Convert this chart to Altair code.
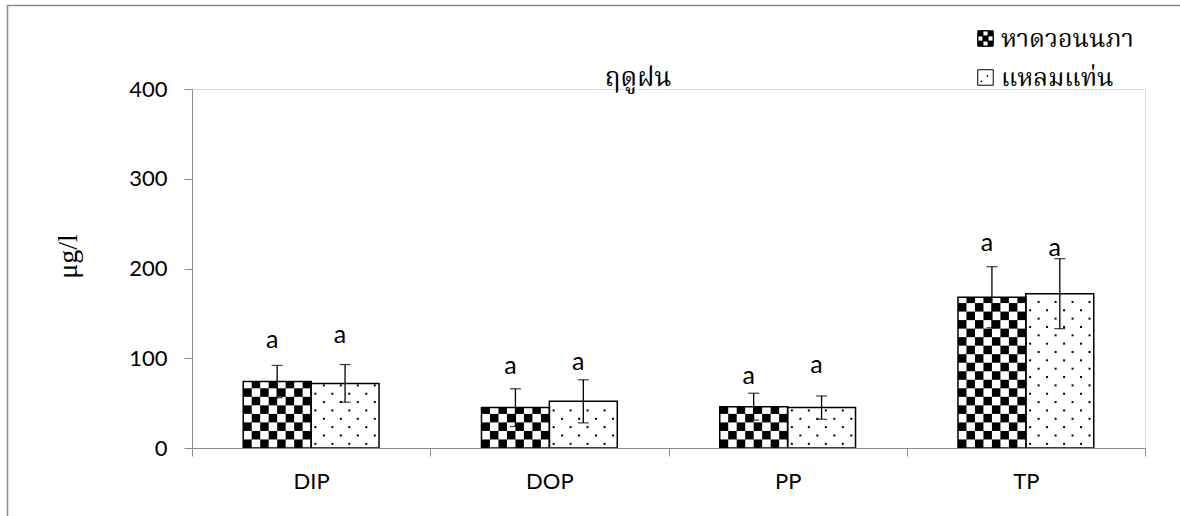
import json
import math
import altair as alt
import pandas as pd

# ---------------- data ----------------
categories = ["DIP", "DOP", "PP", "TP"]
sites = ["หาดวอนนภา", "แหลมแท่น"]
won_nopha_mean = [74, 45, 46, 168]
won_nopha_err = [18, 21, 15, 34]
laem_taen_mean = [72, 52, 45, 172]
laem_taen_err = [21, 24, 13, 39]
won_nopha_letter = ["a", "a", "a", "a"]
laem_taen_letter = ["a", "a", "a", "a"]
won_nopha_letter_y = [120, 91, 80, 228]
laem_taen_letter_y = [126, 96, 93, 223]

title_text = "ฤดูฝน"
y_title = "μg/l"

# ---------------- style constants ----------------
THAI = "Noto Serif Thai, Norasi, Noto Sans Thai, Loma, Garuda, Liberation Serif, serif"
LAT = "Lato, Open Sans, sans-serif"
BAR_W = 0.285       # bar width as a fraction of one category step
CELL_COLS = 8       # checker columns per bar
CELL_Y = 9.5        # checker cell height (y units)
DOT_COLS = 4
DOT_ROW = 9.3
GREY = "#8c8c8c"
W, H = 953, 359

# ---------------- tables built from the arrays ----------------
bars, cells, dots = [], [], []
series = [
    (sites[0], won_nopha_mean, won_nopha_err, won_nopha_letter, won_nopha_letter_y),
    (sites[1], laem_taen_mean, laem_taen_err, laem_taen_letter, laem_taen_letter_y),
]
for i, cat in enumerate(categories):
    for s, (site, means, errs, letters, ly) in enumerate(series):
        v = means[i]
        x0 = i + 0.5 - BAR_W if s == 0 else i + 0.5
        x1 = x0 + BAR_W
        xc = (x0 + x1) / 2
        bars.append(dict(cat=cat, site=site, x0=x0, x1=x1, xc=xc, v=v, zero=0,
                         half=v / 2, lo=v - errs[i], hi=v + errs[i],
                         letter=letters[i], ly=ly[i]))
        if s == 0:
            cw = BAR_W / CELL_COLS
            for r in range(math.ceil(v / CELL_Y)):
                ya, yb = r * CELL_Y, min((r + 1) * CELL_Y, v)
                for c in range(CELL_COLS):
                    if (r + c) % 2 == 1:
                        cells.append(dict(x0=x0 + c * cw, x1=x0 + (c + 1) * cw, y0=ya, y1=yb))
        else:
            dw = BAR_W / DOT_COLS
            r = 0
            while (r + 0.5) * DOT_ROW < v - 2:
                for c in range(DOT_COLS):
                    dots.append(dict(x=x0 + (c + 0.25 + 0.5 * (r % 2)) * dw, y=(r + 0.5) * DOT_ROW))
                r += 1

bars_df = pd.DataFrame(bars)
cells_df = pd.DataFrame(cells)
dots_df = pd.DataFrame(dots)

# ---------------- legend symbols (custom paths) ----------------
s = 2 / 3
checker_path = "M-1,-1H1V1H-1Z"
for col in range(3):
    for row in range(3):
        if (col + row) % 2 == 1:
            x, y = -1 + col * s, -1 + row * s
            checker_path += f"M{x:.3f},{y:.3f}V{y + s:.3f}H{x + s:.3f}V{y:.3f}Z"
dot_path = "M-1,-1H1V1H-1Z"
for (x, y) in [(0.2, -0.25), (-0.6, 0.45)]:
    dot_path += f"M{x},{y}h0.1v0.1h-0.1Z"

# ---------------- scales / axes ----------------
x_scale = alt.Scale(domain=[0, 4], nice=False, zero=False)
y_scale = alt.Scale(domain=[0, 400], nice=False)
label_expr = f"{json.dumps(categories)}[datum.value] || ''"
x_axis = alt.Axis(values=[0, 1, 2, 3, 4], labelExpr=label_expr, labelOffset=W / 8,
                  labelFlush=False, labelOverlap=False, labelBound=False,
                  title=None, grid=False, domainColor=GREY, tickColor=GREY,
                  tickSize=8, labelPadding=15, labelFont=LAT, labelFontSize=22,
                  labelColor="black", zindex=1)
y_axis = alt.Axis(values=[0, 100, 200, 300, 400], title=y_title, grid=False,
                  domainColor=GREY, tickColor=GREY, tickSize=8, labelPadding=17,
                  labelFont=LAT, labelFontSize=22, labelColor="black",
                  titleFont="Liberation Serif", titleFontSize=28, titleFontWeight="normal",
                  titleColor="black", titleAngle=270, titleX=-124, titleY=167,
                  titleAlign="center", titleBaseline="middle")


def X(field):
    return alt.X(f"{field}:Q", scale=x_scale, axis=x_axis)


def Y(field):
    return alt.Y(f"{field}:Q", scale=y_scale, axis=y_axis)


fill_scale = alt.Scale(domain=sites, range=["black", "white"])
stroke_scale = alt.Scale(domain=sites, range=["black", "black"])
shape_scale = alt.Scale(domain=sites, range=[checker_path, dot_path])
legend = alt.Legend(title=None, orient="none", legendX=781, legendY=-63,
                    symbolSize=240, symbolStrokeColor="black", symbolStrokeWidth=1,
                    symbolOpacity=1,
                    labelFont=THAI, labelFontSize=25, labelColor="black",
                    labelOffset=3, rowPadding=13, padding=0, labelLimit=400)

base = alt.Chart(bars_df)

legend_pts = base.mark_point(filled=True, size=240, strokeWidth=1, opacity=1).encode(
    x=X("xc"), y=Y("half"),
    shape=alt.Shape("site:N", scale=shape_scale, legend=legend, sort=sites),
    fill=alt.Fill("site:N", scale=fill_scale, legend=legend, sort=sites),
    stroke=alt.Stroke("site:N", scale=stroke_scale, legend=legend, sort=sites),
)

bar_fill = base.mark_rect(stroke=None).encode(
    x=X("x0"), x2="x1", y=Y("v"), y2="zero",
    fill=alt.Fill("site:N", scale=fill_scale, legend=None, sort=sites),
)

checker = alt.Chart(cells_df).mark_rect(fill="white", stroke=None).encode(
    x=X("x0"), x2="x1", y=Y("y0"), y2="y1")

dot_layer = alt.Chart(dots_df).mark_square(size=4, color="black", opacity=1).encode(
    x=X("x"), y=Y("y"))

outline = base.mark_rect(fillOpacity=0, fill="white", stroke="black", strokeWidth=1.5).encode(
    x=X("x0"), x2="x1", y=Y("v"), y2="zero")

err_rule = base.mark_rule(color="black", strokeWidth=1.3).encode(
    x=X("xc"), y=Y("lo"), y2="hi")
err_hi = base.mark_tick(orient="horizontal", size=11, thickness=1.3, color="black").encode(
    x=X("xc"), y=Y("hi"))
err_lo = base.mark_tick(orient="horizontal", size=11, thickness=1.3, color="black").encode(
    x=X("xc"), y=Y("lo"))

letters = base.mark_text(font=LAT, fontSize=25, color="black", dx=-5, baseline="middle").encode(
    x=X("xc"), y=Y("ly"), text="letter:N")

one = pd.DataFrame({"k": [0]})
# outer chart frame: left and top edges (right and bottom fall outside the picture)
frame_top = alt.Chart(one).mark_rule(stroke=GREY, strokeWidth=1.5).encode(
    x=alt.value(-185), x2=alt.value(1000), y=alt.value(-83.5))
frame_left = alt.Chart(one).mark_rule(stroke=GREY, strokeWidth=1.5).encode(
    x=alt.value(-184.5), y=alt.value(-84), y2=alt.value(500))

title = alt.Chart(one).mark_text(
    text=title_text, font=THAI, fontSize=26, color="black", align="center",
    baseline="alphabetic").encode(x=alt.value(446), y=alt.value(-3))

chart = alt.layer(
    frame_top, frame_left, legend_pts, bar_fill, checker, dot_layer, outline,
    err_rule, err_hi, err_lo, letters, title
).properties(
    width=W, height=H,
    autosize=alt.AutoSizeParams(type="none"),
    padding={"left": 192, "top": 89, "right": 35, "bottom": 68},
).configure_view(stroke=None).configure(background="white")

chart.save("out.html", embed_options={"renderer": "svg", "actions": False})
